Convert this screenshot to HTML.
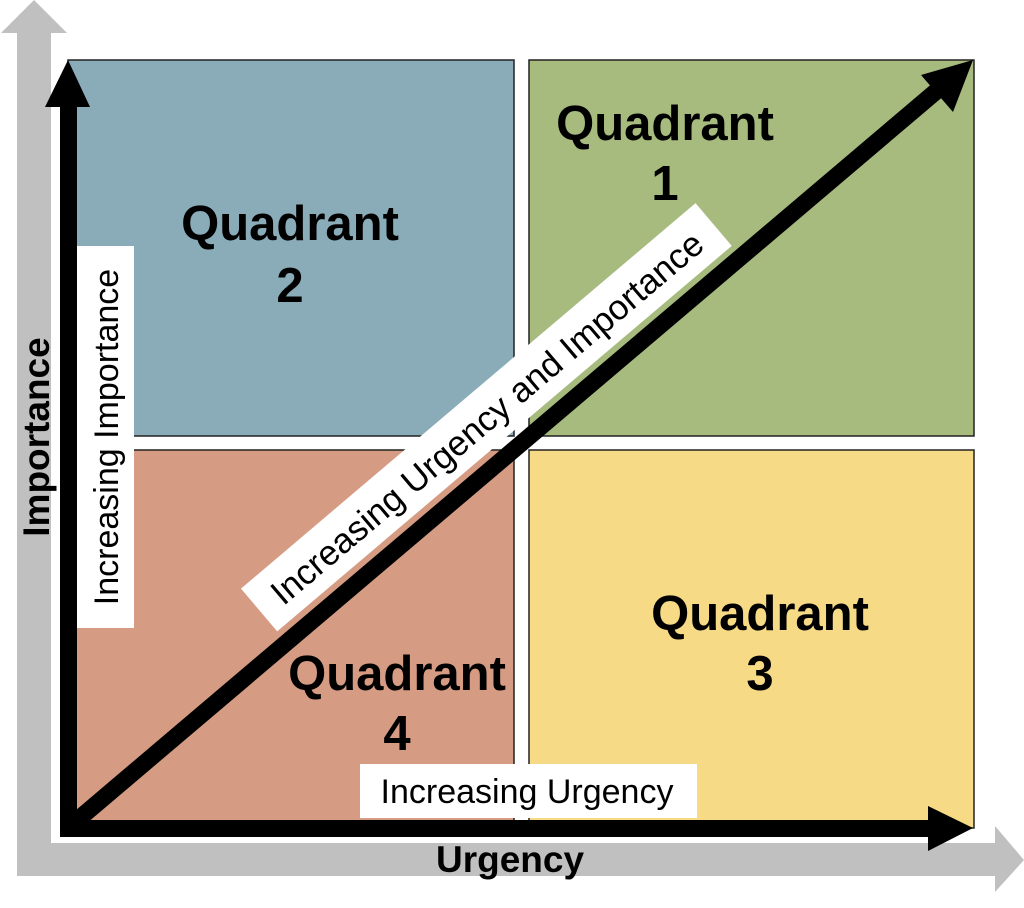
<!DOCTYPE html>
<html><head><style>
body{margin:0;width:1024px;height:903px;background:#fff;overflow:hidden}
svg text{font-family:"Liberation Sans",Arial,sans-serif}
</style></head><body>
<svg width="1024" height="903" viewBox="0 0 1024 903">
<polygon points="34,0 67,33 51,33 51,843 995,843 995,826 1024,860 995,892 995,876 17,876 17,33 1,33" fill="#c0c0c0"/>
<rect x="68" y="60" width="446" height="376" fill="#8AACB8" stroke="#222" stroke-width="1.5"/>
<rect x="529" y="60" width="445" height="376" fill="#A7BB7F" stroke="#222" stroke-width="1.5"/>
<rect x="68" y="450" width="446" height="378" fill="#D59C83" stroke="#222" stroke-width="1.5"/>
<rect x="529" y="450" width="445" height="378" fill="#F6DA85" stroke="#222" stroke-width="1.5"/>
<g font-weight="bold" font-size="49" text-anchor="middle" fill="#000">
<text x="290" y="240">Quadrant</text><text x="290" y="302">2</text>
<text x="665" y="140">Quadrant</text><text x="665" y="200">1</text>
<text x="760" y="630">Quadrant</text><text x="760" y="690">3</text>
<text x="397" y="690">Quadrant</text><text x="397" y="750">4</text>
</g>
<rect x="76" y="246" width="58" height="382" fill="#fff"/>
<text transform="translate(118,437) rotate(-90)" text-anchor="middle" font-size="34">Increasing Importance</text>
<rect x="360" y="764" width="337" height="54" fill="#fff"/>
<text x="527" y="803" text-anchor="middle" font-size="34">Increasing Urgency</text>
<rect x="60" y="100" width="17" height="730" fill="#000"/>
<polygon points="68,60 90,107 45,107" fill="#000"/>
<rect x="60" y="820" width="875" height="17" fill="#000"/>
<polygon points="973,828 928,806 928,851" fill="#000"/>
<line x1="68" y1="828" x2="940" y2="88" stroke="#000" stroke-width="17"/>
<polygon points="973,60 953,112 921,75" fill="#000"/>
<g transform="translate(487,418) rotate(-40.3)">
<rect x="-298" y="-29" width="596" height="56" fill="#fff"/>
<text x="0" y="12" text-anchor="middle" font-size="35">Increasing Urgency and Importance</text>
</g>
<text transform="translate(49,437) rotate(-90)" text-anchor="middle" font-size="37" font-weight="bold">Importance</text>
<text x="510" y="872" text-anchor="middle" font-size="37" font-weight="bold">Urgency</text>
</svg>
</body></html>
